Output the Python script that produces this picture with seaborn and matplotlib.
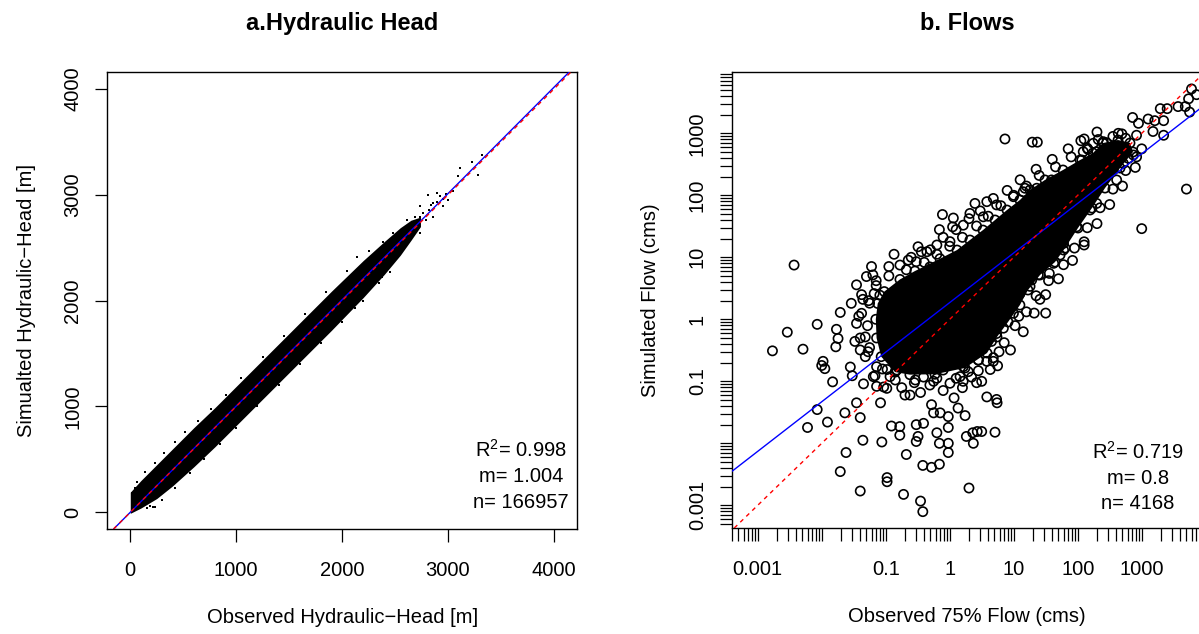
import numpy as np
import matplotlib
matplotlib.use("Agg")
import matplotlib.pyplot as plt
import seaborn as sns
from matplotlib.ticker import LogLocator, NullFormatter

# ---------------- Panel a: hydraulic head (m) ----------------
# dense band of the 166957 points (envelope)
band_obs = [0, 100, 250, 400, 600, 800, 1000, 1300, 1600, 1900, 2200, 2400, 2550, 2650, 2740]
band_low = [-10, 40, 130, 250, 430, 620, 820, 1120, 1420, 1720, 2030, 2250, 2430, 2570, 2700]
band_high = [190, 300, 450, 600, 800, 990, 1190, 1490, 1790, 2090, 2380, 2560, 2690, 2760, 2790]

# individually visible points around the band
head_obs = [13, 44, 108, 155, 186, 215, 233, 60, 140, 230, 320, 420, 520, 640, 760, 900, 1050,
            1250, 1450, 1650, 1850, 2050, 2250, 300, 420, 560, 700, 850, 1000, 1200, 1400, 1600,
            1800, 2000, 2200, 2350, 2138, 2383, 2483, 2531, 2610, 2688, 2704, 2736, 2736, 2814,
            2861, 2861, 2893, 2925, 2956, 3003, 3050, 3097, 3113, 3224, 3280, 3318, 2452, 2374,
            2122, 2760, 2790, 2820, 2700, 2740, 2660, 2900, 2950, 2980, 2840]
head_sim = [180, 227, 85, 38, 60, 47, 53, 290, 380, 470, 560, 660, 760, 860, 980, 1110, 1270,
            1470, 1670, 1870, 2080, 2280, 2470, 120, 230, 370, 500, 650, 800, 1000, 1200, 1400,
            1600, 1800, 2000, 2170, 2417, 2559, 2638, 2496, 2764, 2795, 2686, 2638, 2890, 3000,
            2922, 2795, 3016, 2985, 2890, 2953, 3032, 3174, 3253, 3306, 3190, 3379, 2275, 2228,
            1929, 2830, 2760, 2860, 2740, 2790, 2720, 2930, 2960, 3010, 2900]
head_ticks = [0, 1000, 2000, 3000, 4000]
head_slope, head_icpt = 1.004, 0.0

# ---------------- Panel b: flows (cms) ----------------
# outline of the solid core of overlapping circles
core_obs = [0.140, 0.085, 0.072, 0.070, 0.075, 0.095, 0.167, 0.286, 0.705, 1.30, 2.07, 3.31, 5.11,
            7.85, 12.5, 18.0, 30.8, 58.9, 109, 173, 248, 427, 656, 731, 458, 267, 167, 101,
            63.4, 44.2, 25.8, 16.7, 12.5, 8.15, 5.48, 3.83, 1.73, 0.589, 0.239]
core_sim = [0.141, 0.25, 0.50, 1.0, 1.8, 2.8, 4.40, 6.0, 9.5, 13.1, 19.0, 27.5, 40.0,
            57.9, 84, 122, 177, 256, 371, 481, 698, 780, 698, 499, 275, 131, 62.4, 29.7,
            14.1, 8.39, 5.19, 2.97, 1.70, 0.904, 0.519, 0.286, 0.164, 0.130, 0.128]

flow_obs = [6000, 7200, 5400, 3700, 4800, 2500, 1950, 5600, 720, 890, 1260, 1600, 2200, 1500, 2200,
            830, 490, 7.3, 19.5, 23.4, 126, 145, 5000, 1000, 126, 0.0037, 0.060, 0.77, 0.69, 0.135,
            0.0017, 0.0029, 0.0051, 0.0085, 0.0085, 0.0060, 0.0123, 0.0148, 0.023, 0.0195, 0.024,
            0.040, 0.035, 0.040, 0.044, 0.087, 0.083, 0.105, 0.105, 0.19, 0.21, 0.123, 0.166, 0.166,
            0.30, 0.39, 0.32, 0.30, 0.38, 0.52, 0.69, 0.35, 0.38, 0.63, 0.69, 0.95, 0.95, 0.95, 0.95,
            0.52, 0.56, 0.71, 1.17, 1.35, 1.74, 2.0, 1.82, 2.34, 2.29, 2.69, 3.16, 5.1, 3.8, 5.4,
            5.5, 5.9, 4.8, 2.8, 25.7, 31.6, 12.0, 36, 0.0195, 0.033, 0.017, 0.018, 0.0166, 0.0105,
            0.010, 0.0112, 0.035, 0.050, 0.071, 0.044, 0.056, 0.066, 0.081, 0.028, 0.048, 0.045,
            0.030, 0.068, 0.072, 0.093, 0.105, 0.20, 0.24, 0.29, 0.39, 0.36, 2.63, 4.3, 2.19, 1.62,
            0.029, 0.042, 0.035, 0.048, 0.040, 0.053, 0.072, 0.064, 0.117, 0.149, 0.104, 0.49, 0.63,
            0.79, 1.01, 1.45, 1.63, 1.95, 2.8, 3.8, 4.5, 5.4, 6.9, 7.8, 9.9, 12.5, 18.0, 19.1, 24.2,
            2.48, 3.8, 5.4, 2.07, 3.35, 1.14, 1.63, 1.11, 1.01, 0.63, 0.44, 0.32, 0.36, 0.225, 0.30,
            0.167, 0.49, 9.9, 14.1, 15.0, 22.9, 34.8, 39, 47, 63, 116, 122, 198, 175, 251, 284, 431,
            406, 360, 618, 740, 516, 198, 156, 138, 96, 96, 60, 53, 42, 60,
            # circles along the edge of the dense core
            0.056, 0.052, 0.054, 0.071, 0.112, 0.21, 0.40, 0.63, 1.0, 1.58, 2.63, 4.0, 6.3, 10,
            15.8, 25, 45, 79, 141, 209, 355, 562,
            832, 562, 355, 224, 141, 89, 60, 35, 22.4, 15.8, 10.5, 7.1, 4.8, 2.8, 1.26, 0.56,
            0.28, 0.141, 0.089,
            # second ring of circles around the core
            0.040, 0.038, 0.042, 0.063, 0.112, 0.25, 0.50, 0.79, 1.26, 2.0, 3.0, 4.8, 7.9, 12.6,
            22.4, 40, 71, 112, 200,
            1000, 794, 501, 316, 200, 126, 83, 50, 31.6, 20.9, 14.1, 8.9, 5.6, 3.16, 1.58, 0.79,
            0.35, 0.178]
flow_sim = [5200, 4200, 3600, 2700, 2700, 2500, 2500, 2200, 1800, 1450, 1700, 1600, 1600, 1070, 930,
            930, 980, 810, 720, 720, 810, 550, 126, 29, 15.8, 7.5, 7.1, 49, 28, 11.2,
            0.31, 0.62, 0.33, 0.83, 0.035, 0.018, 0.022, 0.098, 0.031, 0.0035, 0.0071,
            0.0017, 0.045, 0.026, 0.0112, 0.0105, 0.045, 0.0028, 0.0024, 0.0015, 0.0066, 0.019, 0.0186, 0.0135,
            0.020, 0.021, 0.0129, 0.0107, 0.0044, 0.0041, 0.0046, 0.00117, 0.00079, 0.0148, 0.010, 0.010, 0.0071, 0.018, 0.027,
            0.042, 0.031, 0.031, 0.054, 0.037, 0.028, 0.0019, 0.0129, 0.010, 0.0148, 0.0155, 0.0155, 0.0151, 0.056, 0.051,
            0.045, 0.30, 0.21, 0.22, 2.1, 1.26, 1.12, 5.5, 1.29, 0.44, 0.69, 0.49, 0.36, 0.21,
            0.18, 0.16, 3.6, 4.9, 4.2, 2.1, 1.82, 2.6, 2.45, 0.17, 0.25, 0.091,
            0.123, 0.123, 0.083, 0.081, 0.155, 0.060, 0.060, 0.105, 0.117, 0.195, 0.095, 0.155, 0.117, 0.10,
            1.81, 1.25, 0.86, 0.52, 0.32, 0.30, 0.172, 0.119, 0.119, 0.152, 0.077, 0.087, 0.112,
            0.152, 0.093, 0.119, 0.172, 0.143, 0.22, 0.21, 0.44, 0.59, 0.72, 1.81, 1.25, 2.6, 3.4, 4.3, 5.2,
            74, 79, 70, 51, 45, 43, 33, 31, 17.9, 15.8, 12.3, 14.8, 12.3, 9.0, 8.5,
            7.5, 7.0, 95, 114, 130, 130, 147, 177, 166, 200, 371, 505, 505, 690, 733, 705, 1000,
            177, 256, 395, 447, 328, 74, 58, 74, 45, 31, 13.1, 10.9, 8.0, 16.8,
            # circles along the edge of the dense core
            0.35, 0.79, 2.0, 3.5, 5.0, 6.3, 8.3, 11.2, 15.1, 21, 32, 46, 68, 100,
            141, 209, 288, 417, 575, 794, 891, 832,
            417, 251, 126, 63, 30, 14.1, 7.6, 4.2, 2.4, 1.32, 0.79, 0.42, 0.24, 0.148, 0.112, 0.10,
            0.095, 0.105, 0.158,
            # second ring of circles around the core
            0.50, 1.12, 2.5, 5.2, 7.1, 10, 13.2, 21, 28, 42, 56, 89, 120, 178,
            263, 380, 562, 759, 1050,
            562, 282, 141, 71, 35, 17.8, 8.9, 4.5, 2.5, 1.26, 0.63, 0.32, 0.178, 0.10, 0.079, 0.071,
            0.066, 0.079]
flow_slope, flow_log_icpt = 0.8, 0.27
flow_ticks = [1e-3, 1e-2, 1e-1, 1, 10, 100, 1000, 1e4]
flow_ticklabels = ["0.001", "", "0.1", "1", "10", "100", "1000", ""]

# ---------------- style ----------------
sns.set_style("ticks")
plt.rcParams.update({
    "font.family": ["Liberation Sans", "DejaVu Sans"],
    "mathtext.fontset": "custom",
    "mathtext.rm": "Liberation Sans",
    "mathtext.it": "Liberation Sans:italic",
    "mathtext.bf": "Liberation Sans:bold",
    "axes.edgecolor": "black",
    "axes.linewidth": 1.0,
    "xtick.color": "black",
    "ytick.color": "black",
    "text.color": "black",
    "axes.labelcolor": "black",
})

FS = 14.5
fig = plt.figure(figsize=(11.99, 6.34), dpi=100)
ax1 = fig.add_axes([107.3 / 1199, 105 / 634, 470 / 1199, 457 / 634])
ax2 = fig.add_axes([732 / 1199, 106 / 634, 470 / 1199, 456 / 634])

# ----- panel a -----
ax1.fill_between(band_obs, band_low, band_high, color="black", lw=0, zorder=2)
sns.scatterplot(x=head_obs, y=head_sim, ax=ax1, marker="s", s=2.6, color="black",
                linewidth=0, zorder=2)
ax1.axline((0, head_icpt), slope=head_slope, color="blue", lw=1.0, zorder=4)
ax1.axline((0, 0), slope=1, color="red", lw=1.0, ls=(0, (3, 3)), zorder=5)
ax1.set_xlim(-217, 4221)
ax1.set_ylim(-158, 4161)
ax1.set_xticks(head_ticks)
ax1.set_yticks(head_ticks)
ax1.set_title("a.Hydraulic Head", fontsize=17, fontweight="bold", pad=30)
ax1.set_xlabel("Observed Hydraulic\u2212Head [m]", fontsize=FS, labelpad=20)
ax1.set_ylabel("Simualted Hydraulic\u2212Head [m]", fontsize=FS, labelpad=20)
for t, yy in zip([r"$\mathregular{R^2}$= 0.998", "m= 1.004", "n= 166957"], [0.173, 0.114, 0.057]):
    ax1.text(0.880, yy, t, transform=ax1.transAxes, ha="center", va="center", fontsize=FS)

# ----- panel b -----
ax2.set_xscale("log")
ax2.set_yscale("log")
ax2.fill(core_obs, core_sim, color="black", lw=0, zorder=2)
sns.scatterplot(x=core_obs, y=core_sim, ax=ax2, marker="o", s=44, color="none",
                edgecolor="black", linewidth=1.2, zorder=3)
sns.scatterplot(x=flow_obs, y=flow_sim, ax=ax2, marker="o", s=44, color="none",
                edgecolor="black", linewidth=1.2, zorder=3)
ax2.axline((1, 10 ** flow_log_icpt), (10, 10 ** (flow_log_icpt + flow_slope)),
           color="blue", lw=1.0, zorder=4)
ax2.axline((1, 1), (10, 10), color="red", lw=1.0, ls=(0, (3, 3)), zorder=5)
ax2.set_xticks(flow_ticks, labels=flow_ticklabels)
ax2.set_yticks(flow_ticks, labels=flow_ticklabels)
for axis in (ax2.xaxis, ax2.yaxis):
    axis.set_minor_locator(LogLocator(base=10, subs=np.arange(2, 10), numticks=100))
    axis.set_minor_formatter(NullFormatter())
ax2.set_xlim(10 ** -3.4016, 10 ** 3.942)
ax2.set_ylim(10 ** -3.366, 10 ** 3.989)
ax2.set_title("b. Flows", fontsize=17, fontweight="bold", pad=30)
ax2.set_xlabel("Observed 75% Flow (cms)", fontsize=FS, labelpad=20)
ax2.set_ylabel("Simulated Flow (cms)", fontsize=FS, labelpad=20)
for t, yy in zip([r"$\mathregular{R^2}$= 0.719", "m= 0.8", "n= 4168"], [0.167, 0.109, 0.054]):
    ax2.text(0.864, yy, t, transform=ax2.transAxes, ha="center", va="center", fontsize=FS)

for ax in (ax1, ax2):
    for s in ax.spines.values():
        s.set_visible(True)
        s.set_color("black")
        s.set_linewidth(1.0)
    ax.tick_params(axis="both", which="both", direction="out", length=9, width=0.9,
                   labelsize=FS, bottom=True, left=True, top=False, right=False)
    ax.tick_params(axis="x", which="both", pad=14)
    ax.tick_params(axis="y", which="both", pad=9)
    plt.setp(ax.get_yticklabels(), rotation=90, va="center")
    ax.grid(False)

fig.savefig("out.png", dpi=100)
